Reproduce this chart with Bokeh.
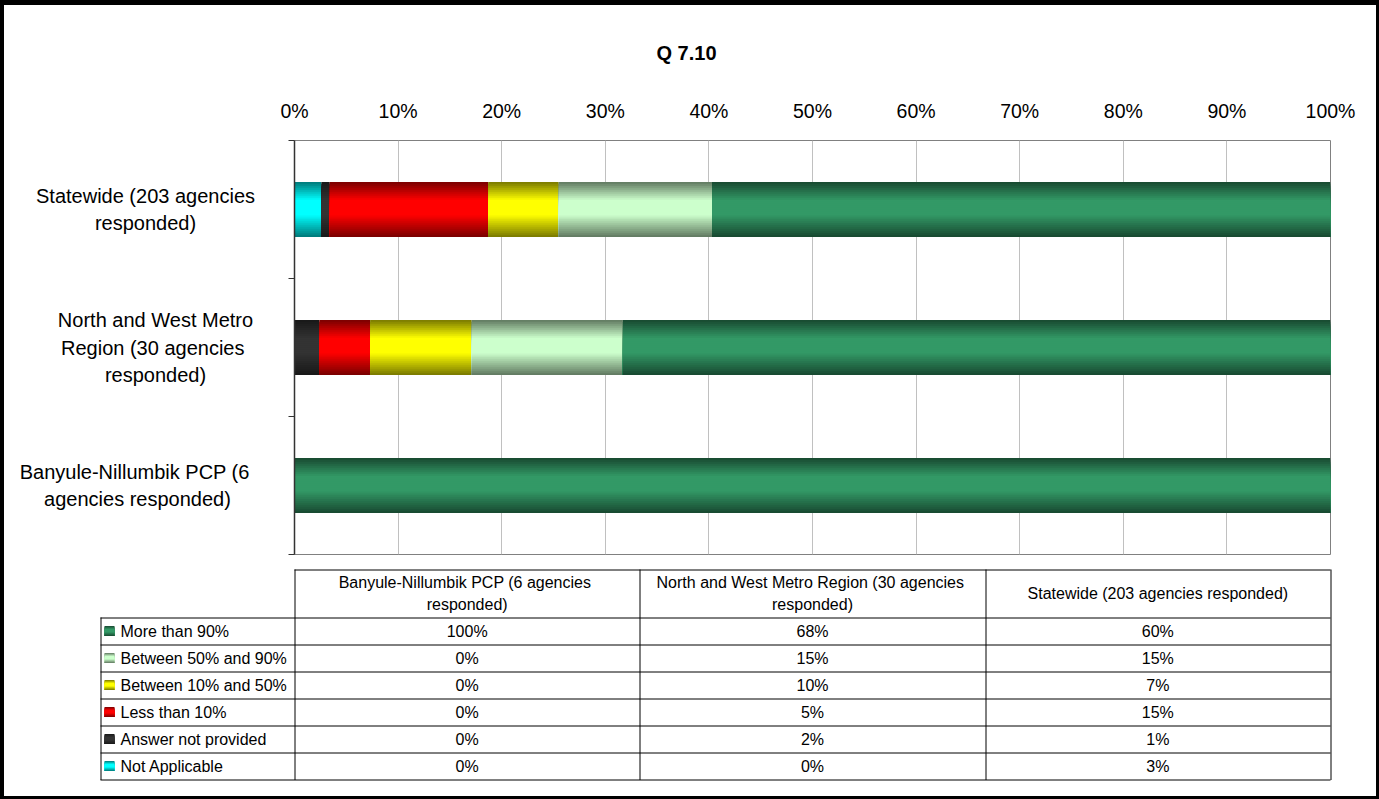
import numpy as np
from bokeh.plotting import figure
from bokeh.layouts import column, row
from bokeh.models import Range1d, FixedTicker, PrintfTickFormatter, ColumnDataSource, Title
from bokeh.embed import file_html
from bokeh.resources import INLINE
from bokeh.core.properties import value

# ---- data -------------------------------------------------------------
title_text = "Q 7.10"
categories = [
    "Banyule-Nillumbik PCP  (6 agencies responded)",
    "North and West Metro Region  (30 agencies responded)",
    "Statewide (203 agencies responded)",
]
axis_labels = [
    "Banyule-Nillumbik PCP  (6\nagencies responded)",
    "North and West Metro\nRegion  (30 agencies\nresponded)",
    "Statewide (203 agencies\nresponded)",
]
table_headers = [
    "Banyule-Nillumbik PCP  (6 agencies\nresponded)",
    "North and West Metro Region  (30 agencies\nresponded)",
    "Statewide (203 agencies responded)",
]

# stacking order, left to right
series_names = ["Not Applicable", "Answer not provided", "Less than 10%",
                "Between 10% and 50%", "Between 50% and 90%", "More than 90%"]
series_colors = ["#00FFFF", "#333333", "#FF0000", "#FFFF00", "#CCFFCC", "#339966"]

# percentages per category (Banyule, North and West, Statewide)
not_applicable = [0.0, 0.0, 2.6]
answer_not_provided = [0.0, 2.4, 0.8]
less_than_10 = [0.0, 4.9, 15.3]
between_10_50 = [0.0, 9.8, 6.8]
between_50_90 = [0.0, 14.6, 14.8]
more_than_90 = [100.0, 68.3, 59.7]
series_values = [not_applicable, answer_not_provided, less_than_10,
                 between_10_50, between_50_90, more_than_90]

x_ticks = [0, 10, 20, 30, 40, 50, 60, 70, 80, 90, 100]

FONT = "Liberation Sans"


# ---- gradient helpers -------------------------------------------------
def shade(hex_color, f):
    h = hex_color.lstrip("#")
    r, g, b = (int(h[i:i + 2], 16) for i in (0, 2, 4))
    return "#%02x%02x%02x" % (int(r * f), int(g * f), int(b * f))


def profile(t):
    # dark at the top and bottom edges, full colour across the middle
    if t < 0.33:
        return 0.47 + 0.53 * (t / 0.33)
    if t < 0.6:
        return 1.0
    return 1.0 - 0.53 * ((t - 0.6) / 0.4)


N_STRIPS = 28

# ---- layout sizes -----------------------------------------------------
W = 1372            # inner width inside the frame border
H_TOP = 555
LABEL_W = 270       # panel holding the category names
TOP_B, BOT_B = 135, 6

# ---- bar chart --------------------------------------------------------
p = figure(width=W - LABEL_W, height=H_TOP, x_range=Range1d(0, 100), y_range=Range1d(0, 3),
           x_axis_location="above", output_backend="svg", toolbar_location=None,
           min_border_left=20, min_border_right=46, min_border_top=TOP_B,
           min_border_bottom=BOT_B)
p.frame_align = False
p.background_fill_color = "white"
p.border_fill_color = "white"
p.outline_line_color = "#808080"
p.outline_line_width = 1

p.title = Title(text=title_text, align="left", offset=362, standoff=65,
                text_font=FONT, text_font_size="20px", text_font_style="bold",
                text_color="black")

ypos = [0.5, 1.5, 2.5]
bar_h = 0.4
step = bar_h / N_STRIPS

# each strip runs from the bar's bottom edge up to its own band, drawn top
# band first, so every later strip paints over the lower part of the last
left = np.zeros(len(categories))
for name, color, vals in zip(series_names, series_colors, series_values):
    vals = np.array(vals)
    right = left + vals
    ys, hs, ls, rs, cs = [], [], [], [], []
    for k in range(N_STRIPS):
        tt = (k + 0.5) / N_STRIPS
        c = shade(color, profile(tt))
        for i in range(len(categories)):
            if vals[i] <= 0:
                continue
            top = ypos[i] + bar_h / 2 - k * step
            bot = ypos[i] - bar_h / 2
            ys.append((top + bot) / 2)
            hs.append(top - bot)
            ls.append(left[i])
            rs.append(right[i])
            cs.append(c)
    src = ColumnDataSource(dict(y=ys, h=hs, left=ls, right=rs, color=cs))
    p.hbar(y="y", left="left", right="right", height="h",
           fill_color="color", line_color=None, source=src)
    left = right

# top percentage axis
xa = p.xaxis[0]
xa.ticker = FixedTicker(ticks=x_ticks)
xa.formatter = PrintfTickFormatter(format="%d%%")
xa.axis_line_color = None
xa.major_tick_out = 0
xa.major_tick_in = 0
xa.minor_tick_out = 0
xa.minor_tick_in = 0
xa.major_label_standoff = 19
xa.major_label_text_font = FONT
xa.major_label_text_font_size = "19.5px"
xa.major_label_text_color = "black"

# category axis: tick marks between the categories
ya = p.yaxis[0]
ya.ticker = FixedTicker(ticks=[], minor_ticks=[0, 1, 2, 3])
ya.major_tick_out = 0
ya.major_tick_in = 0
ya.minor_tick_out = 6
ya.minor_tick_in = 0
ya.minor_tick_line_color = "#333333"
ya.axis_line_color = "#333333"
ya.axis_line_width = 1.5

p.xgrid.ticker = FixedTicker(ticks=x_ticks)
p.xgrid.grid_line_color = "#C0C0C0"
p.ygrid.visible = False

# ---- category names, centred line by line, left of the axis ------------
lab = figure(width=LABEL_W, height=H_TOP, x_range=Range1d(0, LABEL_W), y_range=Range1d(0, 3),
             output_backend="svg", toolbar_location=None, min_border_left=0,
             min_border_right=0, min_border_top=TOP_B, min_border_bottom=BOT_B,
             x_axis_location=None, y_axis_location=None)
lab.frame_align = False
lab.outline_line_color = None
lab.grid.visible = False
label_centers = [133, 151, 141]
lab.text(x=label_centers, y=ypos, text=axis_labels, text_font=value(FONT),
         text_font_size="20px", text_align="center", text_baseline="middle",
         text_line_height=1.25, text_color="black")

# ---- data table -------------------------------------------------------
TH = 236
t = figure(width=W, height=TH, x_range=Range1d(0, W), y_range=Range1d(TH, 0),
           output_backend="svg", toolbar_location=None, min_border=0,
           min_border_left=0, min_border_right=0, min_border_top=0,
           min_border_bottom=0, x_axis_location=None, y_axis_location=None)
t.frame_align = False
t.outline_line_color = None
t.grid.visible = False
t.background_fill_color = "white"
t.border_fill_color = "white"

col_x = [290, 290 + 1036 / 3, 290 + 2 * 1036 / 3, 1326]
legend_left = 96
head_top, head_bot, row_h = 9, 57, 27
row_order = list(reversed(range(len(series_names))))  # "More than 90%" first
n_rows = len(row_order)
tab_bot = head_bot + n_rows * row_h

x0s, y0s, x1s, y1s = [], [], [], []
x0s.append(col_x[0]); x1s.append(col_x[-1]); y0s.append(head_top + 0.5); y1s.append(head_top + 0.5)
for k in range(n_rows + 1):
    yy = head_bot + k * row_h + 0.5
    x0s.append(legend_left); x1s.append(col_x[-1]); y0s.append(yy); y1s.append(yy)
x0s.append(legend_left + 0.5); x1s.append(legend_left + 0.5); y0s.append(head_bot); y1s.append(tab_bot + 0.5)
for cx in col_x:
    xx = round(cx) + 0.5
    x0s.append(xx); x1s.append(xx); y0s.append(head_top); y1s.append(tab_bot + 0.5)
t.segment(x0=x0s, y0=y0s, x1=x1s, y1=y1s, line_color="black", line_width=1)

col_centers = [(col_x[i] + col_x[i + 1]) / 2 for i in range(3)]
t.text(x=col_centers, y=[(head_top + head_bot) / 2] * 3, text=table_headers,
       text_font=value(FONT), text_font_size="16px", text_align="center",
       text_baseline="middle", text_line_height=1.25, text_color="black")

row_cy = [head_bot + (k + 0.5) * row_h for k in range(n_rows)]
vx, vy, vt = [], [], []
for k, s in enumerate(row_order):
    for i in range(len(categories)):
        vx.append(col_centers[i])
        vy.append(row_cy[k])
        vt.append("%.0f%%" % series_values[s][i])
t.text(x=vx, y=vy, text=vt, text_font=value(FONT), text_font_size="16px",
       text_align="center", text_baseline="middle", text_color="black")

t.text(x=[116] * n_rows, y=row_cy, text=[series_names[s] for s in row_order],
       text_font=value(FONT), text_font_size="16px", text_align="left",
       text_baseline="middle", text_color="black")

# legend keys with the same shading as the bars
key = 10
kn = 10
kx, ky, kh, kc = [], [], [], []
for k, s in enumerate(row_order):
    for j in range(kn):
        tt = (j + 0.5) / kn
        top = row_cy[k] - key / 2 + j * key / kn
        bot = row_cy[k] + key / 2
        kx.append(100 + key / 2)
        ky.append((top + bot) / 2)
        kh.append(bot - top)
        kc.append(shade(series_colors[s], profile(tt)))
t.rect(x=kx, y=ky, width=key, height=kh, fill_color=kc, line_color=None)

layout = column(row(lab, p), t, styles={
    "border-top": "5px solid black",
    "border-left": "4px solid black",
    "border-right": "3px solid black",
    "border-bottom": "3px solid black",
})

open("out.html", "w").write(file_html(layout, INLINE))
